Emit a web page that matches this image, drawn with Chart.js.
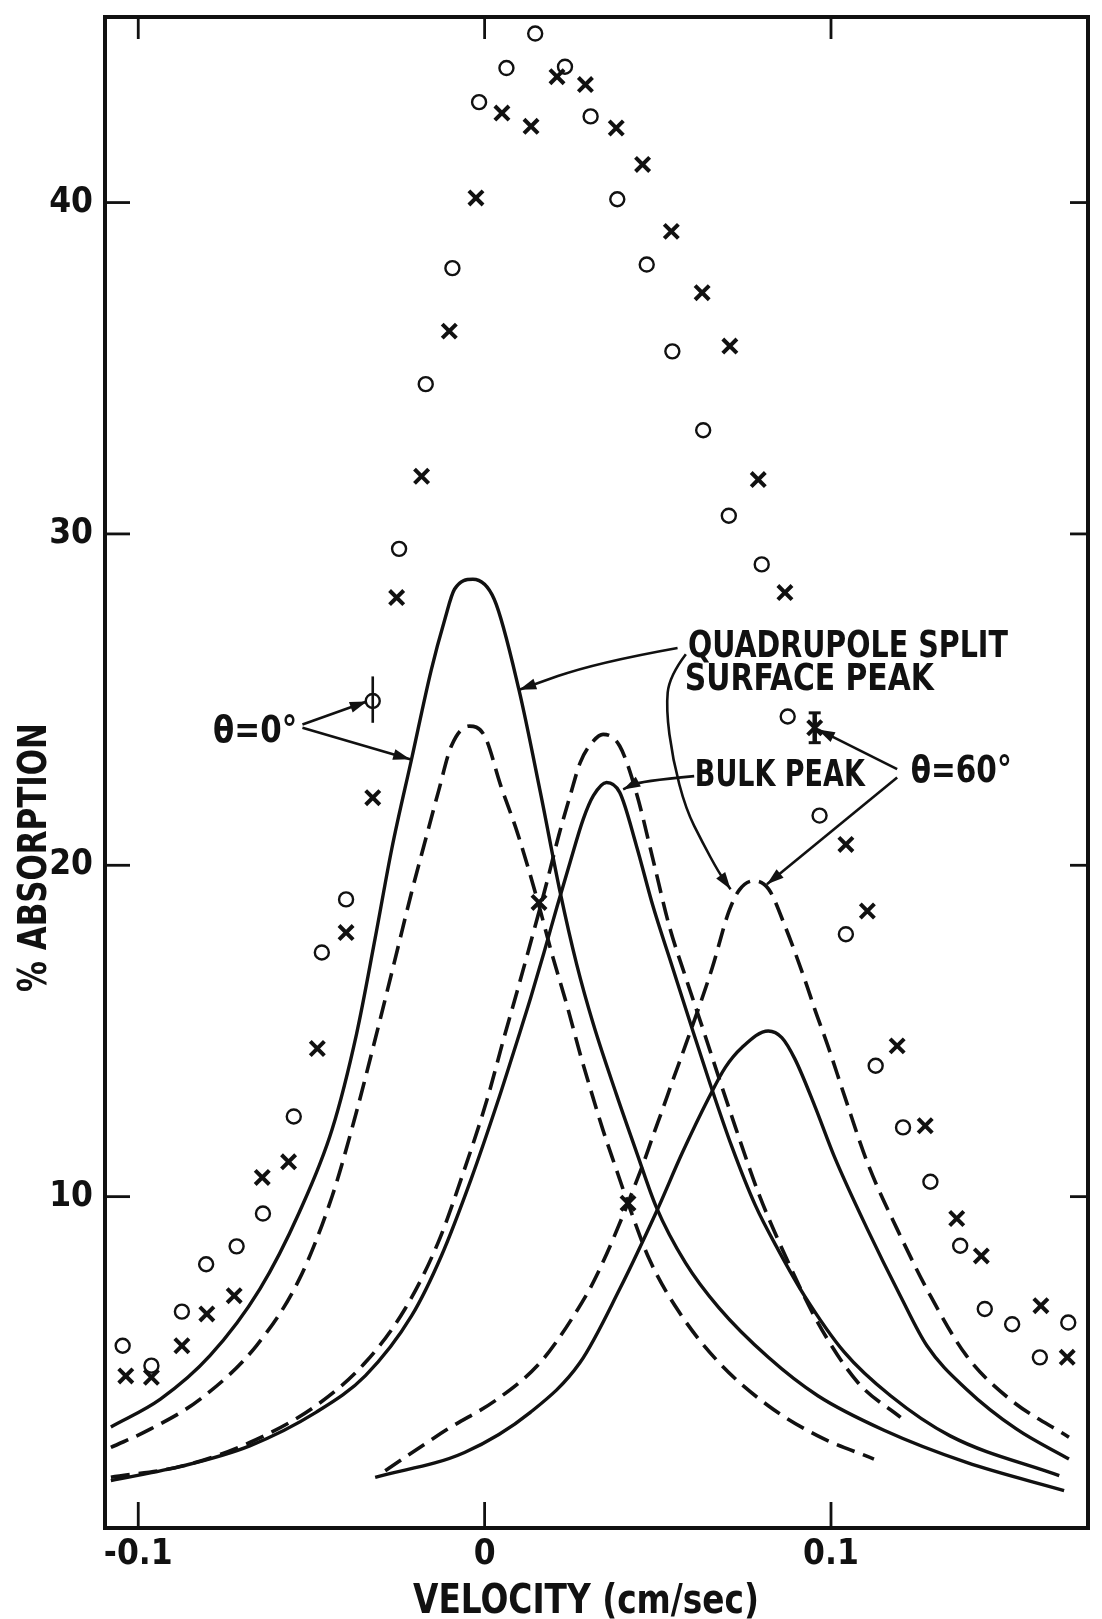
<!DOCTYPE html>
<html>
<head>
<meta charset="utf-8">
<title>% Absorption vs velocity</title>
<script src="https://cdn.jsdelivr.net/npm/chart.js@4.4.1/dist/chart.umd.min.js"></script>
<style>
  html, body { margin: 0; padding: 0; background: #fff; }
  canvas { display: block; }
</style>
</head>
<body>
<canvas id="absorptionChart" width="1102" height="1619"></canvas>
<script>
// Axis ranges and tick labels
const X_MIN = -0.1096, X_MAX = 0.1742;
const Y_MIN = 0, Y_MAX = 45.6;
const xTicks = [-0.1, 0, 0.1];
const xTickLabels = ["-0.1", "0", "0.1"];
const yTicks = [10, 20, 30, 40];
const yTickLabels = ["10", "20", "30", "40"];

// Measured absorption, [velocity, % absorption]
const circles = [
  [-0.1045, 5.5], [-0.0962, 4.9], [-0.0874, 6.53], [-0.0804, 7.96], [-0.0716, 8.5],
  [-0.064, 9.49], [-0.0551, 12.42], [-0.047, 17.37], [-0.04, 18.97], [-0.0323, 24.96],
  [-0.0247, 29.55], [-0.017, 34.52], [-0.0093, 38.02], [-0.0016, 43.03], [0.0063, 44.06],
  [0.0146, 45.1], [0.0232, 44.1], [0.0306, 42.6], [0.0383, 40.1], [0.0468, 38.13],
  [0.0542, 35.51], [0.0631, 33.13], [0.0705, 30.55], [0.08, 29.08], [0.0875, 24.49],
  [0.0967, 21.5], [0.1043, 17.92], [0.1129, 13.95], [0.1208, 12.09], [0.1287, 10.45],
  [0.1373, 8.52], [0.1444, 6.61], [0.1523, 6.15], [0.1603, 5.15], [0.1685, 6.2]
];
const crosses = [
  [-0.1036, 4.59], [-0.0962, 4.55], [-0.0874, 5.5], [-0.0802, 6.46], [-0.0723, 7.01],
  [-0.0642, 10.58], [-0.0566, 11.05], [-0.0483, 14.47], [-0.04, 17.97], [-0.0323, 22.04],
  [-0.0254, 28.08], [-0.0182, 31.74], [-0.0102, 36.12], [-0.0025, 40.14], [0.005, 42.7],
  [0.0134, 42.3], [0.0157, 18.88], [0.0209, 43.8], [0.0291, 43.56], [0.038, 42.25],
  [0.0414, 9.8], [0.0456, 41.15], [0.0539, 39.13], [0.0628, 37.28], [0.0708, 35.67],
  [0.079, 31.64], [0.0867, 28.23], [0.0953, 24.15], [0.1043, 20.63], [0.1105, 18.62],
  [0.1191, 14.55], [0.1272, 12.14], [0.1363, 9.34], [0.1434, 8.21], [0.1606, 6.71],
  [0.1682, 5.15]
];
// Error bars: [velocity, low, high]
const errorBars = [[-0.0323, 24.3, 25.7], [0.0953, 23.7, 24.6]];

// Fitted components, theta = 0 deg (solid)
const surface0Low = [
  [-0.1079, 3.05], [-0.0936, 3.89], [-0.0793, 5.2], [-0.0649, 7.21], [-0.0535, 9.53],
  [-0.044, 12.04], [-0.037, 14.9], [-0.0316, 17.8], [-0.0268, 20.5], [-0.0211, 23.2],
  [-0.0154, 25.9], [-0.0115, 27.42], [-0.0087, 28.33], [-0.0034, 28.63], [0.0028, 28.02],
  [0.0099, 25.3], [0.0161, 22.2], [0.0218, 19.19], [0.0266, 17.0], [0.0314, 15.2],
  [0.038, 13.1], [0.044, 11.3], [0.0495, 9.7], [0.058, 8.0], [0.0676, 6.65], [0.0819, 5.15],
  [0.0962, 3.99], [0.1153, 2.95], [0.1391, 1.98], [0.1673, 1.13]
];
const bulk0 = [
  [-0.1079, 1.43], [-0.0869, 1.88], [-0.0678, 2.48], [-0.0487, 3.49], [-0.0344, 4.6],
  [-0.0211, 6.4], [-0.0125, 8.21], [-0.0039, 10.53], [0.0037, 12.84], [0.0094, 14.7],
  [0.0133, 16.0], [0.0171, 17.35], [0.0209, 18.75], [0.0247, 20.1], [0.0285, 21.4],
  [0.0314, 22.1], [0.0352, 22.5], [0.039, 22.2], [0.0438, 20.6], [0.0486, 18.77],
  [0.054, 17.0], [0.0595, 15.2], [0.0648, 13.5], [0.0714, 11.5], [0.0781, 9.75],
  [0.085, 8.35], [0.0924, 7.0], [0.1039, 5.3], [0.1172, 3.99], [0.1344, 2.78], [0.1659, 1.58]
];
const surface0High = [
  [-0.0316, 1.53], [-0.0058, 2.28], [0.0132, 3.49], [0.0276, 5.0], [0.039, 7.21],
  [0.0495, 9.52], [0.0571, 11.33], [0.0648, 13.0], [0.0695, 13.9], [0.0743, 14.5],
  [0.0819, 15.0], [0.0858, 14.8], [0.0896, 14.15], [0.0953, 12.74], [0.101, 11.2],
  [0.1105, 9.02], [0.12, 7.01], [0.1277, 5.5], [0.1391, 4.19], [0.1535, 2.99], [0.1687, 2.08]
];

// Fitted components, theta = 60 deg (dashed)
const surface60Low = [
  [-0.1079, 2.43], [-0.0964, 2.99], [-0.0821, 3.89], [-0.0659, 5.5], [-0.0535, 7.51],
  [-0.044, 10.02], [-0.0373, 12.44], [-0.0316, 14.75], [-0.0287, 15.96], [-0.0249, 17.57],
  [-0.0211, 19.18], [-0.0173, 20.68], [-0.0134, 22.2], [-0.0096, 23.6], [-0.0044, 24.2],
  [0.0, 23.9], [0.0047, 22.39], [0.0094, 21.0], [0.0152, 18.97], [0.0195, 17.3],
  [0.0237, 15.8], [0.0276, 14.3], [0.0304, 13.3], [0.0342, 12.0], [0.0376, 10.95],
  [0.0409, 9.95], [0.0476, 8.1], [0.0562, 6.51], [0.0676, 5.0], [0.0819, 3.69],
  [0.0962, 2.78], [0.1124, 2.08]
];
const bulk60 = [
  [-0.1079, 1.53], [-0.0869, 1.88], [-0.0678, 2.58], [-0.0487, 3.69], [-0.0344, 5.0],
  [-0.023, 6.61], [-0.0134, 8.62], [-0.0058, 10.83], [0.0009, 13.0], [0.0056, 14.8],
  [0.0094, 16.2], [0.0152, 18.4], [0.018, 19.5], [0.0214, 20.9], [0.0247, 22.1],
  [0.0276, 23.1], [0.0314, 23.75], [0.0342, 23.95], [0.039, 23.6], [0.0438, 22.19],
  [0.0486, 20.18], [0.0533, 18.17], [0.0581, 16.6], [0.0629, 15.1], [0.0676, 13.6],
  [0.0724, 12.1], [0.0791, 10.1], [0.086, 8.4], [0.0962, 6.2], [0.1077, 4.4],
  [0.1201, 3.34]
];
const surface60High = [
  [-0.0287, 1.73], [-0.0106, 2.99], [0.0037, 3.89], [0.0161, 5.0], [0.0257, 6.4],
  [0.0323, 7.61], [0.0452, 10.83], [0.0486, 11.83], [0.0514, 12.64], [0.0543, 13.5],
  [0.0581, 14.6], [0.0657, 16.9], [0.0705, 18.6], [0.0735, 19.25], [0.0777, 19.53],
  [0.082, 19.28], [0.0867, 18.17], [0.0924, 16.56], [0.0953, 15.66], [0.0991, 14.55],
  [0.1039, 13.04], [0.1105, 11.03], [0.1191, 9.02], [0.1287, 7.01], [0.1391, 5.2],
  [0.1516, 3.89], [0.1687, 2.74]
];

const FONT = "'Liberation Sans Narrow', 'DejaVu Sans Condensed', 'DejaVu Sans', sans-serif";
const INK = "#111";

const toPoints = pairs => pairs.map(([x, y]) => ({ x, y }));

function curve(pairs, dashed) {
  return {
    type: "line",
    data: toPoints(pairs),
    showLine: true,
    borderColor: INK,
    borderWidth: dashed ? 3.6 : 3.4,
    borderDash: dashed ? [19, 9] : [],
    pointRadius: 0,
    fill: false,
    cubicInterpolationMode: "monotone"
  };
}

// scales keep the exact box size, no extra edge padding for labels
function fixBox(size, horizontal) {
  return s => {
    if (horizontal) s.height = size; else s.width = size;
    s.paddingTop = s.paddingBottom = s.paddingLeft = s.paddingRight = 0;
  };
}

// draw text squeezed/stretched to a given width
function fitText(ctx, text, x, y, width, size, weight) {
  ctx.font = `${weight} ${size}px ${FONT}`;
  const w = ctx.measureText(text).width;
  ctx.save();
  ctx.translate(x, y);
  ctx.scale(width / w, 1);
  ctx.textAlign = "left";
  ctx.textBaseline = "alphabetic";
  ctx.fillText(text, 0, 0);
  ctx.restore();
}

function arrow(ctx, pts) {
  ctx.beginPath();
  ctx.moveTo(pts[0][0], pts[0][1]);
  for (let i = 1; i < pts.length - 1; i++) {
    const mx = (pts[i][0] + pts[i + 1][0]) / 2;
    const my = (pts[i][1] + pts[i + 1][1]) / 2;
    ctx.quadraticCurveTo(pts[i][0], pts[i][1], mx, my);
  }
  const last = pts[pts.length - 1];
  const prev = pts[pts.length - 2];
  ctx.lineTo(last[0], last[1]);
  ctx.stroke();
  const a = Math.atan2(last[1] - prev[1], last[0] - prev[0]);
  const len = 17, half = 5.5;
  ctx.beginPath();
  ctx.moveTo(last[0], last[1]);
  ctx.lineTo(last[0] - len * Math.cos(a) + half * Math.sin(a), last[1] - len * Math.sin(a) - half * Math.cos(a));
  ctx.lineTo(last[0] - len * Math.cos(a) - half * Math.sin(a), last[1] - len * Math.sin(a) + half * Math.cos(a));
  ctx.closePath();
  ctx.fill();
}

// frame, inward ticks, error bars, labels and arrows
const paperPlugin = {
  id: "paper",
  afterDatasetsDraw(chart) {
    const { ctx, chartArea: a, scales: { x, y } } = chart;
    const P = (v, val) => [x.getPixelForValue(v), y.getPixelForValue(val)];
    const seg = (x1, y1, x2, y2) => { ctx.beginPath(); ctx.moveTo(x1, y1); ctx.lineTo(x2, y2); ctx.stroke(); };

    ctx.save();
    ctx.strokeStyle = INK;
    ctx.fillStyle = INK;
    ctx.lineCap = "butt";

    ctx.lineWidth = 4;
    ctx.strokeRect(a.left, a.top, a.right - a.left, a.bottom - a.top);

    ctx.lineWidth = 2.8;
    xTicks.forEach(v => {
      const px = x.getPixelForValue(v);
      seg(px, a.bottom, px, a.bottom - 26);
      seg(px, a.top, px, a.top + 22);
    });
    yTicks.forEach(v => {
      const py = y.getPixelForValue(v);
      seg(a.left, py, a.left + 25, py);
      seg(a.right, py, a.right - 18, py);
    });

    // error bars
    errorBars.forEach(([v, lo, hi], i) => {
      const [px, pLo] = P(v, lo);
      const pHi = y.getPixelForValue(hi);
      ctx.lineWidth = i === 0 ? 2.6 : 4.5;
      seg(px, pLo, px, pHi);
      if (i === 1) {
        ctx.lineWidth = 3;
        seg(px - 6, pLo, px + 6, pLo);
        seg(px - 6, pHi, px + 6, pHi);
      }
    });

    // annotation text
    const label = (text, v, val, width) => {
      const [px, py] = P(v, val);
      fitText(ctx, text, px, py, width, 37, "bold");
    };
    label("\u03b8=0\u00b0", -0.0784, 23.71, 84);
    label("QUADRUPOLE SPLIT", 0.0587, 26.3, 320);
    label("SURFACE PEAK", 0.0578, 25.28, 249);
    label("BULK PEAK", 0.0607, 22.38, 170);
    label("\u03b8=60\u00b0", 0.123, 22.5, 101);

    // arrows
    ctx.lineWidth = 2.6;
    const path = pts => pts.map(([v, val]) => P(v, val));
    arrow(ctx, path([[-0.0526, 24.25], [-0.034, 24.94]]));
    arrow(ctx, path([[-0.0526, 24.15], [-0.0215, 23.2]]));
    arrow(ctx, path([[0.0557, 26.56], [0.0323, 26.12], [0.01, 25.3]]));
    arrow(ctx, path([[0.0581, 26.37], [0.0533, 25.71], [0.0524, 24.71], [0.0543, 23.2],
                     [0.0581, 21.69], [0.0629, 20.69], [0.0676, 19.78], [0.071, 19.28]]));
    arrow(ctx, path([[0.0605, 22.69], [0.0447, 22.54], [0.04, 22.29]]));
    arrow(ctx, path([[0.1191, 22.9], [0.0962, 24.1]]));
    arrow(ctx, path([[0.1191, 22.65], [0.0815, 19.43]]));

    // axis titles
    fitText(ctx, "VELOCITY (cm/sec)", a.left + 308, a.bottom + 85, 346, 40, "bold");
    ctx.save();
    ctx.translate(46, a.bottom - 536);
    ctx.rotate(-Math.PI / 2);
    fitText(ctx, "% ABSORPTION", 0, 0, 269, 39, "bold");
    ctx.restore();

    ctx.restore();
  }
};

new Chart(document.getElementById("absorptionChart"), {
  type: "scatter",
  data: {
    datasets: [
      curve(surface0Low, false),
      curve(bulk0, false),
      curve(surface0High, false),
      curve(surface60Low, true),
      curve(bulk60, true),
      curve(surface60High, true),
      {
        type: "scatter",
        data: toPoints(circles),
        pointStyle: "circle",
        pointRadius: 7,
        borderWidth: 2.4,
        borderColor: INK,
        backgroundColor: "rgba(0,0,0,0)"
      },
      {
        type: "scatter",
        data: toPoints(crosses),
        pointStyle: "crossRot",
        pointRadius: 10,
        borderWidth: 4,
        borderColor: INK
      }
    ]
  },
  options: {
    responsive: false,
    animation: false,
    devicePixelRatio: 1,
    layout: { padding: { top: 17, right: 6, left: 0, bottom: 0 } },
    plugins: { legend: { display: false }, tooltip: { enabled: false } },
    scales: {
      x: {
        type: "linear",
        min: X_MIN,
        max: X_MAX,
        grid: { display: false, drawTicks: false },
        border: { display: false },
        afterBuildTicks: s => { s.ticks = xTicks.map(v => ({ value: v })); },
        afterFit: fixBox(91, true),
        ticks: {
          callback: (v, i) => xTickLabels[i],
          color: INK,
          font: { family: FONT, size: 35, weight: "bold" },
          padding: 6,
          maxRotation: 0,
          autoSkip: false
        }
      },
      y: {
        type: "linear",
        min: Y_MIN,
        max: Y_MAX,
        grid: { display: false, drawTicks: false },
        border: { display: false },
        afterBuildTicks: s => { s.ticks = yTicks.map(v => ({ value: v })); },
        afterFit: fixBox(105, false),
        ticks: {
          callback: (v, i) => yTickLabels[i],
          color: INK,
          font: { family: FONT, size: 35, weight: "bold" },
          padding: 12,
          autoSkip: false
        }
      }
    }
  },
  plugins: [paperPlugin]
});
</script>
</body>
</html>
